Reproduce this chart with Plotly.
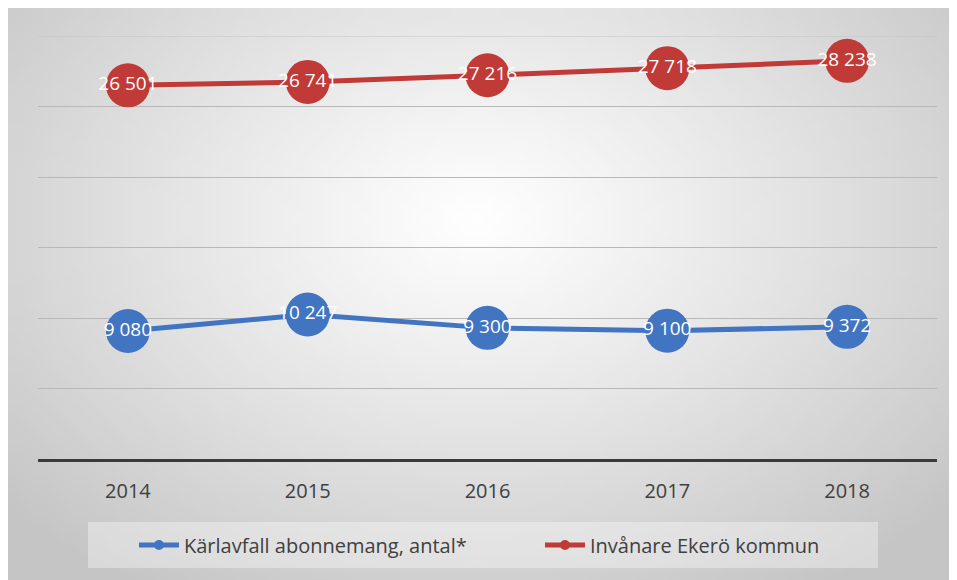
import base64, struct, zlib, math
import plotly.graph_objects as go

years = ["2014", "2015", "2016", "2017", "2018"]
karl = [9080, 10247, 9300, 9100, 9372]
invanare = [26501, 26741, 27216, 27718, 28238]
series_names = ["Kärlavfall abonnemang, antal*", "Invånare Ekerö kommun"]

def fmt(v):
    return f"{v:,}".replace(",", " ")

# ---- radial gradient background as a small PNG ----
def gradient_png(w=96, h=58):
    rows = b""
    cx, cy = 0.49, 0.36
    for j in range(h):
        row = bytearray([0])
        for i in range(w):
            nx = (i / (w - 1) - cx) / 0.5
            ny = (j / (h - 1) - cy) / 0.58
            r = math.sqrt(nx * nx + ny * ny)
            v = 255 - min(42 * r ** 1.1, 58)
            row.append(int(max(0, min(255, v))))
        rows += bytes(row)
    def chunk(t, d):
        c = struct.pack(">I", len(d)) + t + d
        return c + struct.pack(">I", zlib.crc32(t + d) & 0xffffffff)
    png = b"\x89PNG\r\n\x1a\n"
    png += chunk(b"IHDR", struct.pack(">IIBBBBB", w, h, 8, 0, 0, 0, 0))
    png += chunk(b"IDAT", zlib.compress(rows, 9))
    png += chunk(b"IEND", b"")
    return "data:image/png;base64," + base64.b64encode(png).decode()

W, H = 957, 580
L, T = 30, 28
pw, ph = 899, 423
R, B = W - L - pw, H - T - ph

def px2x(px):
    return (px - L) / pw

def py2y(py):
    return (T + ph - py) / ph

blue = "#4174c1"
red = "#c03a38"
FONT = "Open Sans"

fig = go.Figure()
for name, vals, col in [(series_names[0], karl, blue), (series_names[1], invanare, red)]:
    fig.add_trace(go.Scatter(
        x=years, y=vals, name=name, mode="lines+markers+text", showlegend=False,
        line=dict(color=col, width=5),
        marker=dict(color=col, size=44),
        text=[fmt(v) for v in vals], textposition="middle center",
        textfont=dict(color="white", size=19, family=FONT),
    ))
for name, col in [(series_names[0], blue), (series_names[1], red)]:
    fig.add_trace(go.Scatter(
        x=[None], y=[None], name=name, mode="lines+markers",
        line=dict(color=col, width=5), marker=dict(color=col, size=10),
    ))

fig.update_layout(
    width=W, height=H,
    margin=dict(l=L, r=R, t=T, b=B, autoexpand=False),
    paper_bgcolor="white",
    plot_bgcolor="rgba(0,0,0,0)",
    font=dict(family=FONT, color="#404040"),
    images=[dict(
        source=gradient_png(), xref="paper", yref="paper",
        x=px2x(0), y=py2y(0), sizex=W / pw, sizey=H / ph,
        xanchor="left", yanchor="top", sizing="stretch", layer="below",
    )],
    shapes=[
        dict(type="rect", xref="paper", yref="paper",
             x0=px2x(80), x1=px2x(870), y0=py2y(560), y1=py2y(514),
             fillcolor="rgba(255,255,255,0.35)", line=dict(width=0), layer="below"),
        dict(type="line", xref="paper", yref="y", x0=0, x1=1, y0=30000, y1=30000,
             line=dict(color="#c4c4c4", width=1), layer="below"),
    ],
    showlegend=True,
    legend=dict(
        orientation="h", xref="container", yref="container",
        x=126 / W, xanchor="left", y=1 - 537 / H, yanchor="middle",
        bgcolor="rgba(0,0,0,0)", font=dict(size=20, color="#404040", family=FONT),
        entrywidth=351, itemwidth=40,
    ),
    xaxis=dict(
        type="category", range=[-0.5, 4.5], showgrid=False,
        showline=True, linecolor="#3a3a3a", linewidth=3,
        ticks="", ticklabelstandoff=12,
        tickfont=dict(size=20, color="#404040", family=FONT),
    ),
    yaxis=dict(
        range=[0, 30000], tick0=0, dtick=5000, showticklabels=False,
        showgrid=True, gridcolor="#b8b8b8", gridwidth=1, zeroline=False,
    ),
)

fig.write_html("out.html")
